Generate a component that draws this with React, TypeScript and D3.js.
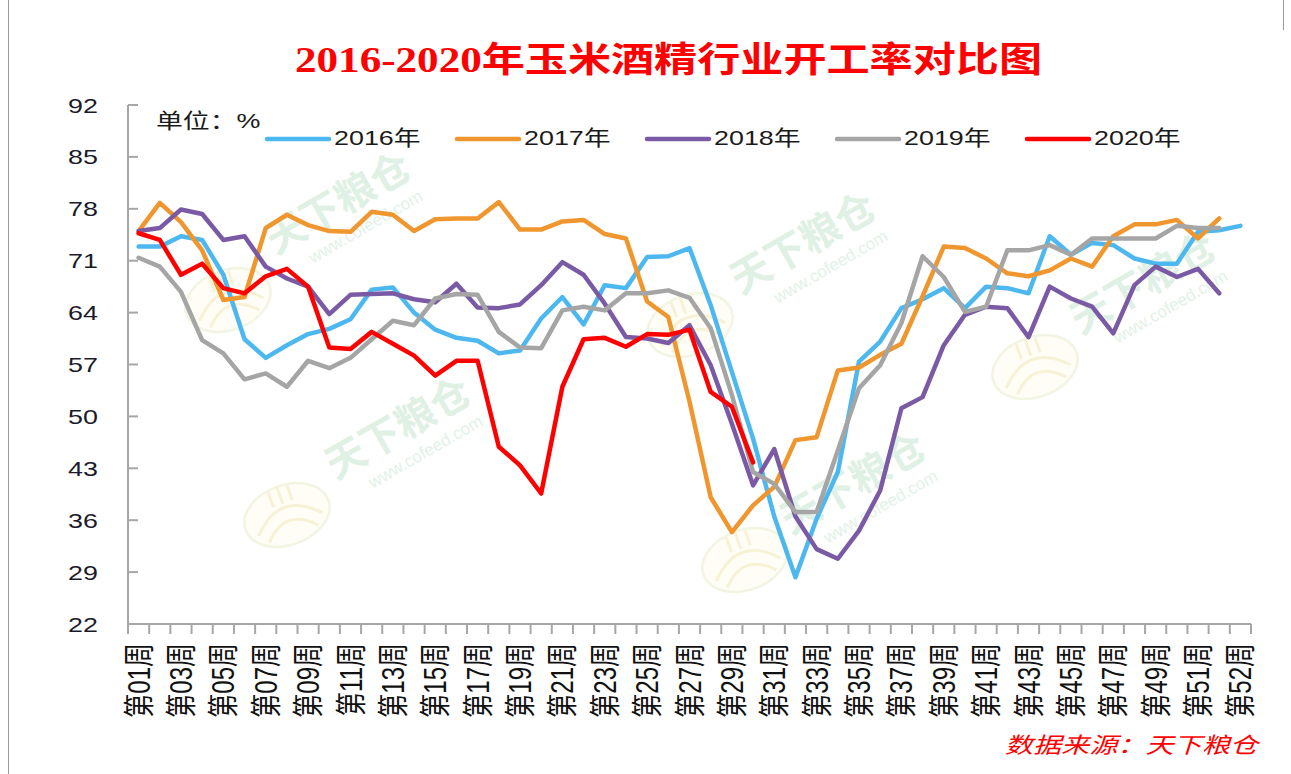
import React from 'react';
import * as d3 from 'd3';

// week categories (the source sheet ends with two 第52周 rows)
const weeks = [
    '第01周', '第02周', '第03周', '第04周', '第05周', '第06周', '第07周', '第08周', '第09周', '第10周',
    '第11周', '第12周', '第13周', '第14周', '第15周', '第16周', '第17周', '第18周', '第19周', '第20周',
    '第21周', '第22周', '第23周', '第24周', '第25周', '第26周', '第27周', '第28周', '第29周', '第30周',
    '第31周', '第32周', '第33周', '第34周', '第35周', '第36周', '第37周', '第38周', '第39周', '第40周',
    '第41周', '第42周', '第43周', '第44周', '第45周', '第46周', '第47周', '第48周', '第49周', '第50周',
    '第51周', '第52周', '第52周',
];

const years = ['2016年', '2017年', '2018年', '2019年', '2020年'];
const yTicks = [22, 29, 36, 43, 50, 57, 64, 71, 78, 85, 92];

const rate2016 = [
    72.9, 72.9, 74.3, 73.8, 69.1, 60.4, 57.9, 59.6, 61.1, 61.8,
    63.1, 67.1, 67.4, 64.0, 61.7, 60.6, 60.2, 58.5, 58.9, 63.2,
    66.1, 62.4, 67.7, 67.3, 71.5, 71.6, 72.7, 65.0, 56.0, 47.0,
    36.5, 28.3, 36.2, 42.5, 57.4, 60.1, 64.6, 65.8, 67.3, 64.6,
    67.5, 67.3, 66.6, 74.3, 71.8, 73.4, 73.1, 71.3, 70.6, 70.6,
    74.9, 75.1, 75.7,
];
const rate2017 = [
    75.0, 78.8, 76.2, 72.4, 65.7, 66.1, 75.4, 77.2, 75.8, 75.0,
    74.9, 77.6, 77.2, 75.0, 76.6, 76.7, 76.7, 78.9, 75.2, 75.2,
    76.3, 76.5, 74.6, 74.0, 65.5, 63.4, 52.0, 39.1, 34.4, 38.0,
    40.5, 46.8, 47.2, 56.2, 56.6, 58.3, 59.8, 66.2, 72.9, 72.7,
    71.3, 69.3, 68.9, 69.7, 71.3, 70.2, 74.3, 75.9, 75.9, 76.5,
    74.0, 76.7,
];
const rate2018 = [
    75.0, 75.4, 77.9, 77.3, 73.8, 74.3, 70.2, 68.6, 67.5, 63.8,
    66.4, 66.5, 66.6, 65.8, 65.4, 67.9, 64.7, 64.6, 65.1, 67.7,
    70.8, 69.1, 65.2, 60.7, 60.5, 59.9, 62.3, 56.9, 49.0, 40.7,
    45.6, 36.5, 32.1, 30.8, 34.6, 40.0, 51.1, 52.6, 59.6, 63.7,
    64.8, 64.6, 60.7, 67.5, 65.9, 64.8, 61.2, 67.7, 70.2, 68.8,
    69.9, 66.6,
];
const rate2019 = [
    71.4, 70.2, 66.8, 60.3, 58.5, 55.0, 55.8, 54.0, 57.5, 56.5,
    57.9, 60.4, 62.9, 62.3, 65.9, 66.5, 66.4, 61.4, 59.3, 59.2,
    64.3, 64.8, 64.3, 66.6, 66.6, 67.0, 66.0, 61.9, 52.9, 42.5,
    40.9, 37.1, 37.1, 45.4, 53.8, 56.9, 62.6, 71.6, 68.8, 64.1,
    64.8, 72.4, 72.4, 73.1, 71.8, 74.0, 74.0, 74.0, 74.0, 75.7,
    75.4, 75.4,
];
const rate2020 = [
    74.7, 73.8, 69.1, 70.6, 67.3, 66.6, 68.9, 69.9, 67.5, 59.3,
    59.1, 61.4, 59.8, 58.2, 55.5, 57.5, 57.5, 45.9, 43.4, 39.6,
    54.0, 60.4, 60.6, 59.4, 61.1, 61.0, 61.7, 53.3, 51.3, 43.8,
];

const seriesList = [rate2016, rate2017, rate2018, rate2019, rate2020];
const colors = ['#4DB8F0', '#F0962E', '#7A5AA4', '#A5A5A5', '#FF0000'];

// faint "天下粮仓" watermarks scattered on the plot
const watermarks = [
    { x: 345, y: 215, lx: 228, ly: 300 },
    { x: 810, y: 255, lx: 690, ly: 325 },
    { x: 405, y: 440, lx: 287, ly: 515 },
    { x: 860, y: 495, lx: 745, ly: 560 },
    { x: 1150, y: 295, lx: 1035, ly: 367 },
];

const STRETCH = 1.28;
const SANS = '"Liberation Sans", Arial, "Noto Sans CJK SC", sans-serif';

class OperatingRateChart extends React.Component {
    node: SVGSVGElement | null = null;

    componentDidMount() {
        this.drawChart();
    }

    componentDidUpdate() {
        this.drawChart();
    }

    drawChart() {
        const width = 1291;
        const height = 774;
        const left = 128;
        const right = 1251;
        const top = 105;
        const bottom = 624;

        const svg = d3.select(this.node);
        svg.selectAll('*').remove();

        svg.append('rect')
            .attr('width', width)
            .attr('height', height)
            .attr('fill', '#fff');

        // outer chart border
        svg.append('line')
            .attr('x1', 8.5).attr('x2', 8.5)
            .attr('y1', 0).attr('y2', height)
            .attr('stroke', '#9a9a9a');
        svg.append('line')
            .attr('x1', 1283.5).attr('x2', 1283.5)
            .attr('y1', 0).attr('y2', 30)
            .attr('stroke', '#9a9a9a');

        const xScale = d3.scaleBand<number>()
            .domain(d3.range(weeks.length))
            .range([left, right]);
        const yScale = d3.scaleLinear()
            .domain([22, 92])
            .range([bottom, top]);
        const cx = (i: number) => (xScale(i) as number) + xScale.bandwidth() / 2;

        // watermarks
        const wm = svg.append('g').attr('id', 'watermarks');
        watermarks.forEach((w) => {
            const logo = wm.append('g')
                .attr('transform', `translate(${w.lx},${w.ly}) rotate(-20)`)
                .attr('opacity', 0.8);
            logo.append('ellipse')
                .attr('rx', 44).attr('ry', 30)
                .attr('fill', '#fffdf3')
                .attr('stroke', '#eef3dc')
                .attr('stroke-width', 2.5);
            logo.append('path')
                .attr('d', 'M-34,10 Q0,-26 34,10 M-26,20 Q0,-8 26,20 M-10,-28 L-10,-12 M0,-30 L0,-12 M10,-28 L10,-12')
                .attr('fill', 'none')
                .attr('stroke', '#f6efcc')
                .attr('stroke-width', 3);
            const g = wm.append('g').attr('transform', `translate(${w.x},${w.y}) rotate(-30)`);
            g.append('text')
                .attr('text-anchor', 'middle')
                .attr('font-family', SANS)
                .attr('font-weight', 'bold')
                .attr('font-size', 40)
                .attr('fill', '#dff0e4')
                .text('天下粮仓');
            g.append('text')
                .attr('text-anchor', 'middle')
                .attr('y', 26)
                .attr('x', 12)
                .attr('font-family', SANS)
                .attr('font-size', 17)
                .attr('fill', '#e3f1e7')
                .text('www.cofeed.com');
        });

        // title
        svg.append('text')
            .attr('x', 295)
            .attr('y', 72)
            .attr('textLength', 747)
            .attr('lengthAdjust', 'spacingAndGlyphs')
            .attr('font-family', '"Liberation Serif", "Times New Roman", "Noto Sans CJK SC", serif')
            .attr('font-weight', 'bold')
            .attr('font-size', 35)
            .attr('fill', '#FF0000')
            .text('2016-2020年玉米酒精行业开工率对比图');

        // y axis
        const yAxis = svg.append('g').attr('id', 'valueAxis');
        yAxis.append('line')
            .attr('x1', left).attr('x2', left)
            .attr('y1', top).attr('y2', bottom)
            .attr('stroke', '#a6a6a6')
            .attr('stroke-width', 2);
        yTicks.forEach((t) => {
            yAxis.append('line')
                .attr('x1', left).attr('x2', left + 10)
                .attr('y1', yScale(t)).attr('y2', yScale(t))
                .attr('stroke', '#a6a6a6')
                .attr('stroke-width', 2);
            yAxis.append('text')
                .attr('transform', `translate(98,${yScale(t)}) scale(${STRETCH},1)`)
                .attr('text-anchor', 'end')
                .attr('dy', '0.36em')
                .attr('font-family', SANS)
                .attr('font-size', 21)
                .attr('fill', '#1a1a2a')
                .text(t);
        });

        // x axis
        const xAxis = svg.append('g').attr('id', 'nameAxis');
        xAxis.append('line')
            .attr('x1', left - 1).attr('x2', right)
            .attr('y1', bottom).attr('y2', bottom)
            .attr('stroke', '#a6a6a6')
            .attr('stroke-width', 2);
        d3.range(weeks.length + 1).forEach((i) => {
            const tx = left + i * xScale.bandwidth();
            xAxis.append('line')
                .attr('x1', tx).attr('x2', tx)
                .attr('y1', bottom).attr('y2', bottom + 10)
                .attr('stroke', '#a6a6a6')
                .attr('stroke-width', 2);
        });
        weeks.forEach((w, i) => {
            if (i % 2 !== 0) return;
            xAxis.append('text')
                .attr('transform', `translate(${cx(i)},643) scale(${STRETCH},1) rotate(-90)`)
                .attr('text-anchor', 'end')
                .attr('dy', '0.36em')
                .attr('font-family', SANS)
                .attr('font-size', 24)
                .attr('fill', '#111')
                .text(w);
        });

        // lines
        const line = d3.line<number>()
            .x((d, i) => cx(i))
            .y((d) => yScale(d));
        seriesList.forEach((s, k) => {
            svg.append('path')
                .datum(s)
                .attr('d', line)
                .attr('fill', 'none')
                .attr('stroke', colors[k])
                .attr('stroke-width', 4.5)
                .attr('stroke-linejoin', 'round')
                .attr('stroke-linecap', 'round');
        });

        // unit + legend
        svg.append('text')
            .attr('transform', `translate(156,128) scale(${STRETCH},1)`)
            .attr('font-family', SANS)
            .attr('font-size', 21)
            .attr('fill', '#1a1a1a')
            .text('单位：%');
        const legend = svg.append('g').attr('id', 'legend');
        years.forEach((yr, k) => {
            const lx = 267 + k * 190;
            legend.append('line')
                .attr('x1', lx).attr('x2', lx + 62)
                .attr('y1', 139).attr('y2', 139)
                .attr('stroke', colors[k])
                .attr('stroke-width', 4.5)
                .attr('stroke-linecap', 'round');
            legend.append('text')
                .attr('transform', `translate(${lx + 67},145) scale(${STRETCH},1)`)
                .attr('font-family', SANS)
                .attr('font-size', 21)
                .attr('fill', '#1a1a1a')
                .text(yr);
        });

        // source note
        svg.append('text')
            .attr('transform', `translate(1258,753) scale(${STRETCH},1)`)
            .attr('text-anchor', 'end')
            .attr('font-family', SANS)
            .attr('font-style', 'italic')
            .attr('font-size', 22)
            .attr('fill', '#FF0000')
            .text('数据来源：天下粮仓');
    }

    render() {
        return (
            <svg
                ref={(node) => { this.node = node; }}
                width={1291}
                height={774}
                style={{ position: 'absolute', left: 0, top: 0, display: 'block' }}
            />
        );
    }
}

export default function App() {
    return <OperatingRateChart />;
}
